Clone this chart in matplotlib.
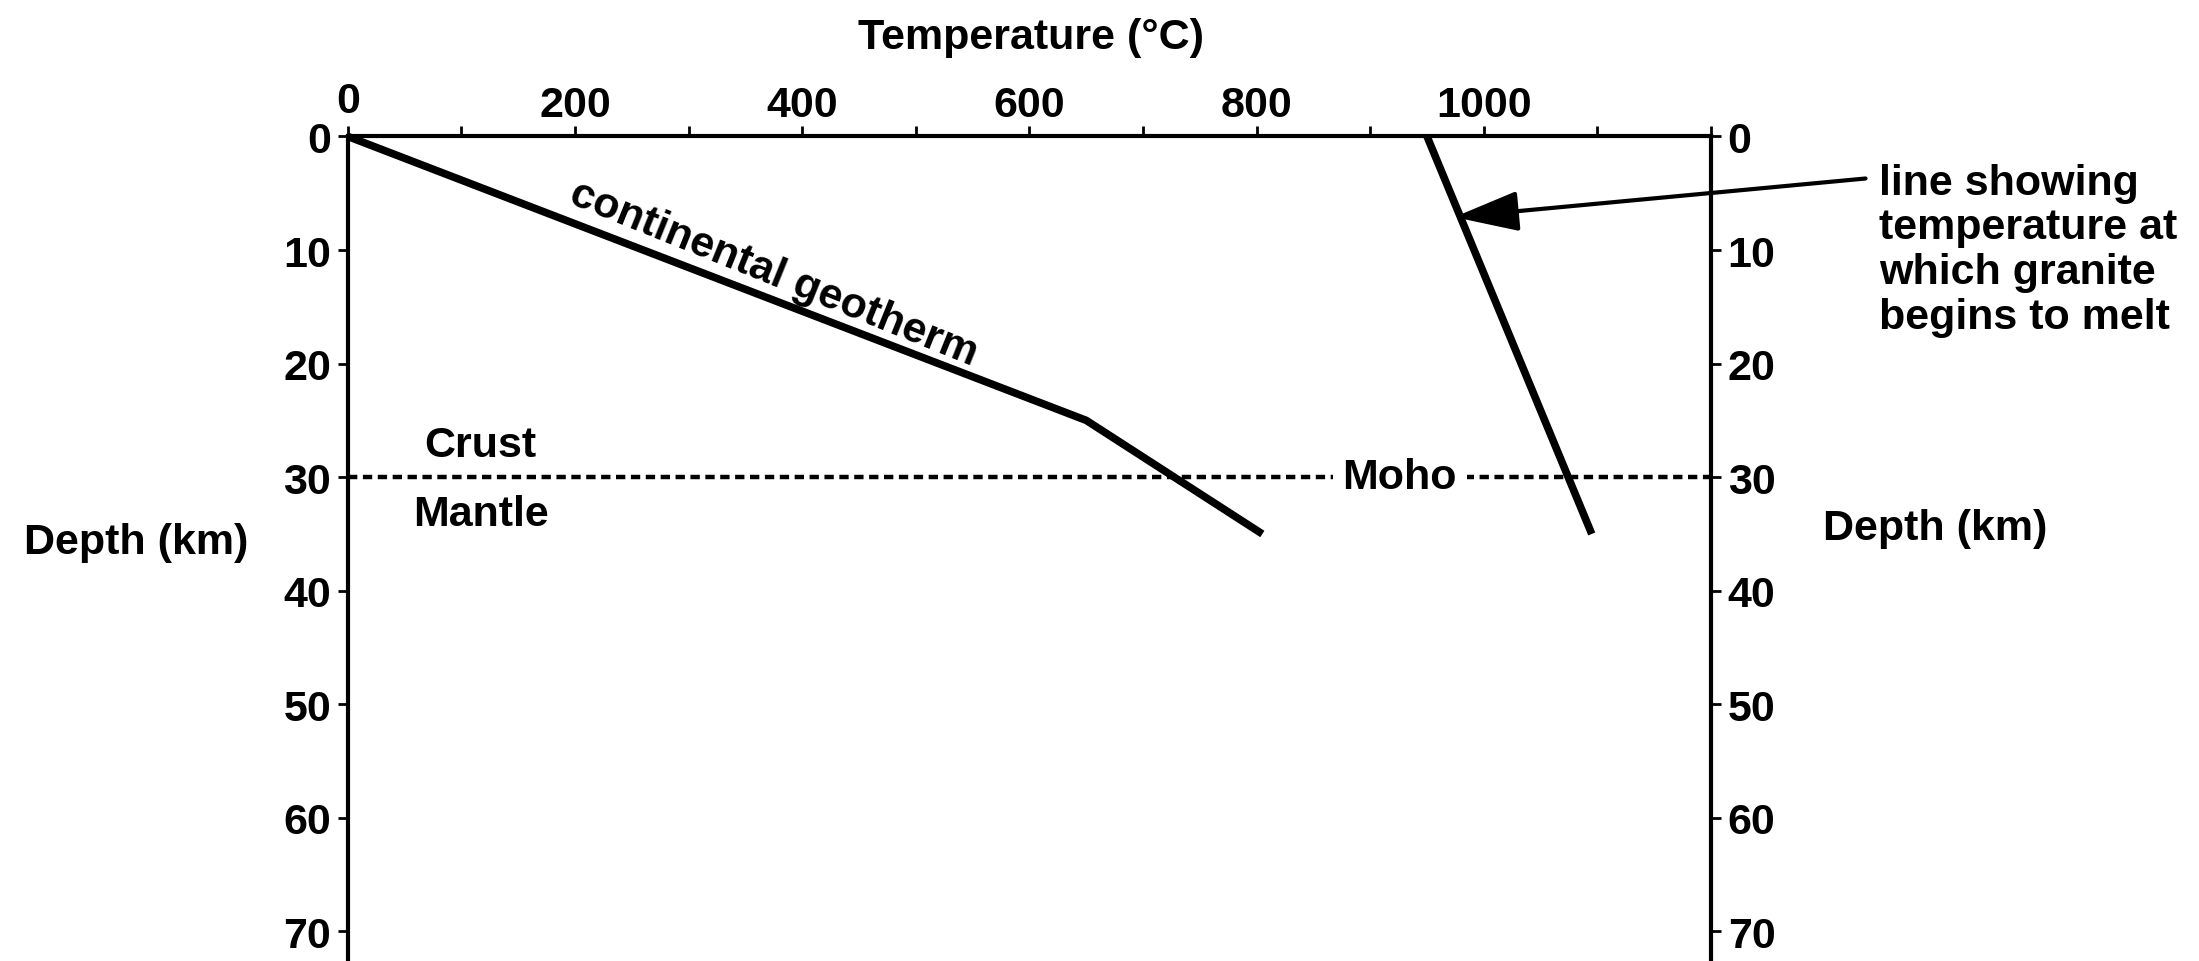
import matplotlib.pyplot as plt
import matplotlib.transforms as mtransforms
import numpy as np

# data
geotherm_temp = [0, 650, 805]
geotherm_depth = [0, 25, 35]
melt_temp = [950, 1095]
melt_depth = [0, 35]
moho_depth = 30
temp_labels = [0, 200, 400, 600, 800, 1000]
temp_minor = [100, 300, 500, 700, 900, 1100, 1200]
depth_ticks = [0, 10, 20, 30, 40, 50, 60, 70]

plt.rcParams['font.family'] = ['Liberation Sans', 'DejaVu Sans']
plt.rcParams['font.weight'] = 'bold'
fs = 31

fig = plt.figure(figsize=(21.99, 9.62), dpi=100)
ax = fig.add_axes([0.1582, 0.0, 0.7781 - 0.1582, 0.8571])

ax.set_xlim(0, 1200)
ax.set_ylim(72.6, 0)

# lines
ax.plot(geotherm_temp, geotherm_depth, color='black', lw=5.5, solid_capstyle='butt', clip_on=False)
ax.plot(melt_temp, melt_depth, color='black', lw=5.5, solid_capstyle='butt', clip_on=False)
ax.plot([0, 1200], [moho_depth, moho_depth], color='black', lw=3.2,
        linestyle=(0, (2.1, 1.25)), clip_on=False)

# spines: top, left, right only
for s in ['top', 'left', 'right']:
    ax.spines[s].set_linewidth(3)
ax.spines['bottom'].set_visible(False)

ax.xaxis.set_ticks_position('top')
ax.xaxis.set_label_position('top')
ax.set_xticks(temp_labels)
ax.set_xticklabels([str(t) for t in temp_labels])
ax.set_xticks(temp_minor, minor=True)
ax.tick_params(axis='x', which='both', direction='out', length=7.5, width=2,
               labelsize=fs, pad=0.5)

ax.set_yticks(depth_ticks)
ax.set_yticklabels([str(d) for d in depth_ticks])
ax.tick_params(axis='y', which='both', left=True, right=True, labelleft=True,
               labelright=True, direction='out', length=7.5, width=2,
               labelsize=fs, pad=4.5)

# raise the top "0" a bit like in the original
lab0 = ax.get_xticklabels()[0]
lab0.set_transform(lab0.get_transform() + mtransforms.ScaledTranslation(0, 3 / 72, fig.dpi_scale_trans))

fig.text(0.469, 0.961, 'Temperature (°C)', ha='center', va='center', fontsize=fs, fontweight='bold')

lab_tr = mtransforms.blended_transform_factory(fig.transFigure, ax.transData)
fig.text(0.0619, 35.7, 'Depth (km)', transform=lab_tr, ha='center', va='center',
         fontsize=fs, fontweight='bold')
fig.text(0.880, 34.5, 'Depth (km)', transform=lab_tr, ha='center', va='center',
         fontsize=fs, fontweight='bold')

# labels inside
ax.text(117, 27.2, 'Crust', ha='center', va='center', fontsize=fs)
ax.text(117, 33.2, 'Mantle', ha='center', va='center', fontsize=fs)
ax.text(926, 30, 'Moho', ha='center', va='center', fontsize=fs,
        bbox=dict(facecolor='white', edgecolor='none', pad=7))
ax.text(375, 12, 'continental geotherm', ha='center', va='center', fontsize=fs,
        rotation=-22, rotation_mode='anchor')

ax.text(1348, 2.3, 'line showing\ntemperature at\nwhich granite\nbegins to melt',
        ha='left', va='top', fontsize=fs, linespacing=1.15, clip_on=False)
ax.annotate('', xy=(974, 7.1), xytext=(1336, 3.7),
            arrowprops=dict(arrowstyle='-|>,head_length=1.6,head_width=0.5',
                            mutation_scale=25, color='black', lw=3,
                            shrinkA=0, shrinkB=0),
            annotation_clip=False)

fig.savefig('out.png', dpi=100)
